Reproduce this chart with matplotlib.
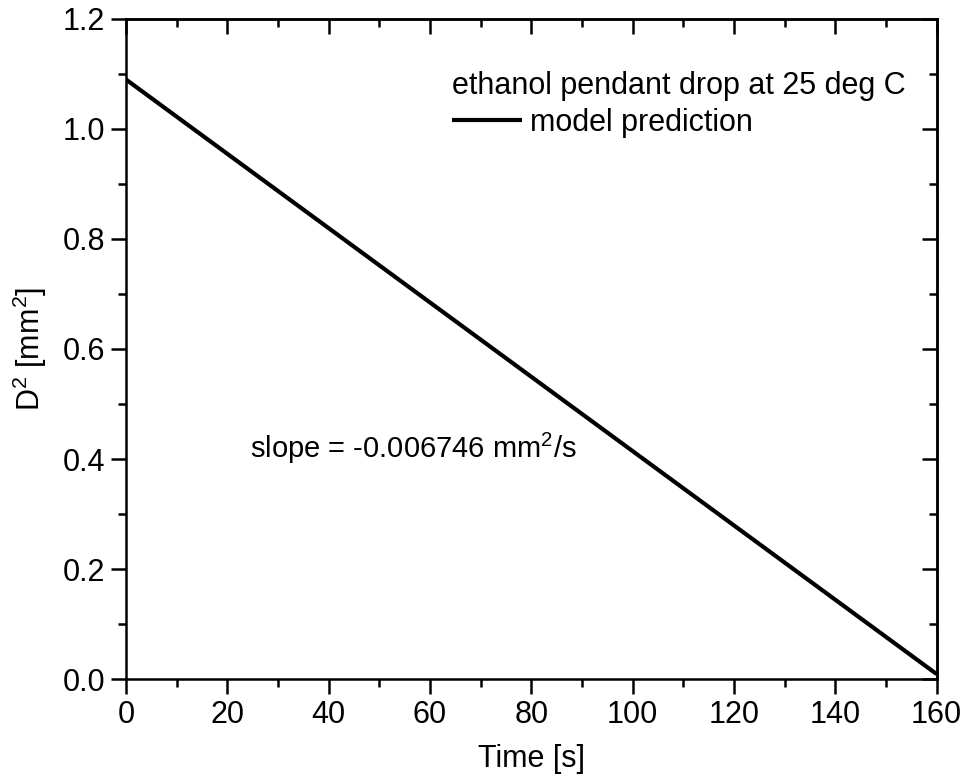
import numpy as np
import matplotlib
matplotlib.use('Agg')
import matplotlib.pyplot as plt
from matplotlib.ticker import MultipleLocator, FormatStrFormatter

plt.rcParams['font.family'] = ['Liberation Sans', 'DejaVu Sans']
plt.rcParams['mathtext.fontset'] = 'custom'
plt.rcParams['mathtext.rm'] = 'Liberation Sans'
plt.rcParams['mathtext.it'] = 'Liberation Sans:italic'

# model prediction endpoints
time_s = [0, 160]
d2_mm2 = [1.09, 0.009]

fs = 22

fig = plt.figure(figsize=(9.66, 7.84), dpi=100)
ax = fig.add_axes([0.1304, 0.1339, 0.8392, 0.8419])

ax.plot(time_s, d2_mm2, color='black', lw=3.0, solid_capstyle='butt',
        label='model prediction')

ax.set_xlim(0, 160)
ax.set_ylim(0, 1.2)
ax.xaxis.set_major_locator(MultipleLocator(20))
ax.xaxis.set_minor_locator(MultipleLocator(10))
ax.yaxis.set_major_locator(MultipleLocator(0.2))
ax.yaxis.set_minor_locator(MultipleLocator(0.1))
ax.yaxis.set_major_formatter(FormatStrFormatter('%.1f'))

for s in ax.spines.values():
    s.set_linewidth(1.8)
ax.tick_params(which='both', direction='out', width=1.8, labelsize=fs,
               top=False, right=False)
ax.tick_params(which='major', length=11, pad=4)
ax.tick_params(which='minor', length=6)

# inward ticks on top and right (no labels)
ax2 = ax.secondary_xaxis('top')
ax2.xaxis.set_major_locator(MultipleLocator(20))
ax2.xaxis.set_minor_locator(MultipleLocator(10))
ax2.tick_params(which='both', direction='in', width=1.8, labeltop=False)
ax2.tick_params(which='major', length=11)
ax2.tick_params(which='minor', length=6)
ax2.spines['top'].set_linewidth(1.8)
ay2 = ax.secondary_yaxis('right')
ay2.yaxis.set_major_locator(MultipleLocator(0.2))
ay2.yaxis.set_minor_locator(MultipleLocator(0.1))
ay2.tick_params(which='both', direction='in', width=1.8, labelright=False)
ay2.tick_params(which='major', length=11)
ay2.tick_params(which='minor', length=6)
ay2.spines['right'].set_linewidth(1.8)

ax.set_xlabel('Time [s]', fontsize=fs, labelpad=10)
ax.set_ylabel('D$^2$ [mm$^2$]', fontsize=fs, labelpad=10)

ax.text(24.4, 0.42, 'slope = -0.006746 mm$^2$/s', fontsize=21, va='center')

leg = ax.legend(loc='upper left', bbox_to_anchor=(0.383, 0.945), frameon=False,
                title='ethanol pendant drop at 25 deg C', title_fontsize=fs,
                fontsize=fs, handlelength=2.3, handletextpad=0.25,
                alignment='left', borderpad=0, labelspacing=0.25)

fig.savefig('out.png', dpi=100)
